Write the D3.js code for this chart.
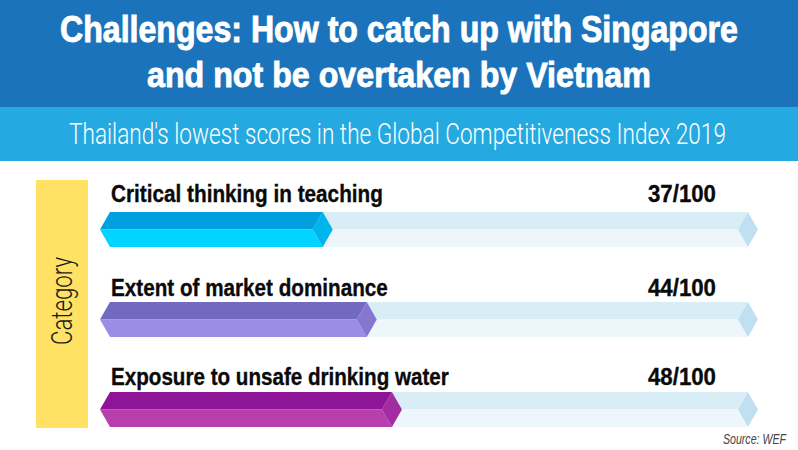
<!DOCTYPE html>
<html>
<head>
<meta charset="utf-8">
<script src="https://cdn.jsdelivr.net/npm/d3@7"></script>
<style>
html, body { margin: 0; padding: 0; background: #fff; }
svg { display: block; }
text { font-family: "Liberation Sans", sans-serif; }
.thin { font-family: Roboto, "Liberation Sans", sans-serif; font-weight: 300; }
</style>
</head>
<body>
<svg id="chart" width="798" height="450"></svg>
<script>
var categories = ["Critical thinking in teaching", "Extent of market dominance", "Exposure to unsafe drinking water"];
var scores = [37, 44, 48];
var scoreLabels = ["37/100", "44/100", "48/100"];
var trackEnd = 104.6;
var titleLines = ["Challenges: How to catch up with Singapore", "and not be overtaken by Vietnam"];
var subtitle = "Thailand's lowest scores in the Global Competitiveness Index 2019";
var topColors = ["#009fdf", "#7369c1", "#8e1597"];
var bottomColors = ["#00d4ff", "#9b8ce6", "#b83fab"];
var capColors = ["#00b4ec", "#8676d0", "#a32ca3"];

var svg = d3.select("#chart");
var x = d3.scaleLinear().domain([0, 100]).range([100, 729]);
var y = d3.scaleBand().domain(categories).range([212, 427]).paddingInner(0.611);
var bevel = 10;

// no condensed font here, so squeeze the glyphs to the measured width
function fitText(sel, tx, ty, width, angle) {
    var s = width / sel.node().getComputedTextLength();
    sel.attr("transform", "translate(" + tx + "," + ty + ") rotate(" + (angle || 0) + ") scale(" + s + ",1)");
    return sel;
}

// header bands
svg.append("rect").attr("width", 798).attr("height", 107).attr("fill", "#1b74bb");
svg.append("rect").attr("y", 107).attr("width", 798).attr("height", 54).attr("fill", "#25a9e1");

function addTitle(line, tx, ty, width) {
    fitText(svg.append("text")
        .attr("font-size", 36)
        .attr("font-weight", "bold")
        .attr("fill", "#fff")
        .attr("stroke", "#fff")
        .attr("stroke-width", 0.9)
        .text(line), tx, ty, width);
}
addTitle(titleLines[0], 60, 42, 678);
addTitle(titleLines[1], 147, 87, 504);

fitText(svg.append("text")
    .attr("class", "thin")
    .attr("font-size", 29)
    .attr("fill", "#fff")
    .text(subtitle), 69, 144, 657);

// category tag
svg.append("rect").attr("x", 36).attr("y", 180).attr("width", 52).attr("height", 248).attr("fill", "#ffe264");
fitText(svg.append("text")
    .attr("class", "thin")
    .attr("font-size", 29)
    .attr("fill", "#1a1a1a")
    .text("Category"), 72, 345, 88, -90);

// draws one half-prism, from left tip to the tip at xEnd
function halfBar(g, xEnd, top, bottom, color, upper) {
    var mid = (top + bottom) / 2;
    var edge = upper ? top : bottom;
    g.append("polygon")
        .attr("points", [[x(0), mid], [x(0) + bevel, edge], [xEnd - bevel, edge], [xEnd - 2 * bevel, mid]].join(" "))
        .attr("fill", color);
}

function cap(g, xEnd, top, bottom, color) {
    var mid = (top + bottom) / 2;
    g.append("polygon")
        .attr("points", [[xEnd, mid], [xEnd - bevel, top], [xEnd - 2 * bevel, mid], [xEnd - bevel, bottom]].join(" "))
        .attr("fill", color);
}

function addLabel(g, label, tx, ty, width) {
    fitText(g.append("text")
        .attr("font-size", 24).attr("font-weight", "bold")
        .attr("fill", "#0a0a0a").attr("stroke", "#0a0a0a").attr("stroke-width", 0.35)
        .text(label), tx, ty, width);
}

var labelWidths = [272, 277, 338];
var labelGaps = [10, 6, 7];
var rows = svg.selectAll(".row").data(categories).enter().append("g").attr("class", "row");

rows.each(function(d, i) {
    var g = d3.select(this);
    var top = y(d), bottom = y(d) + y.bandwidth();
    var trackX = x(trackEnd), barX = x(scores[i]);

    halfBar(g, trackX, top, bottom, "#d8edf5", true);
    halfBar(g, trackX, top, bottom, "#edf7fb", false);
    cap(g, trackX, top, bottom, "#c0e0f1");

    halfBar(g, barX, top, bottom, topColors[i], true);
    halfBar(g, barX, top, bottom, bottomColors[i], false);
    cap(g, barX, top, bottom, capColors[i]);

    addLabel(g, d, 111, top - labelGaps[i], labelWidths[i]);
    addLabel(g, scoreLabels[i], 648, top - labelGaps[i], 68);
});

fitText(svg.append("text")
    .attr("font-size", 14).attr("font-style", "italic").attr("fill", "#444")
    .text("Source: WEF"), 723, 444, 63);
</script>
</body>
</html>
